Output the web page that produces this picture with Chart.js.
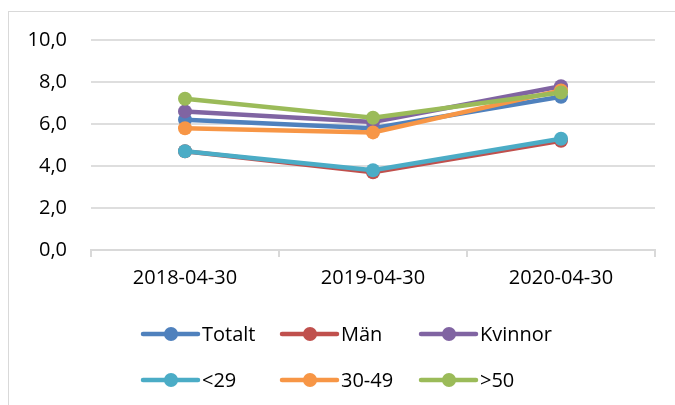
<!DOCTYPE html>
<html>
<head>
<meta charset="utf-8">
<script src="https://cdn.jsdelivr.net/npm/chart.js@4/dist/chart.umd.min.js"></script>
<style>
  html, body { margin: 0; padding: 0; background: #fff; }
  #wrap { position: relative; width: 675px; height: 405px; }
  #frame { position: absolute; left: 8px; top: 11px; right: -2px; bottom: -2px;
           border-top: 1px solid #d9d9d9; border-left: 1px solid #d9d9d9; }
  canvas { position: absolute; left: 0; top: 0; }
</style>
</head>
<body>
<div id="wrap">
  <div id="frame"></div>
  <canvas id="chart" width="675" height="405"></canvas>
</div>
<script>
// categories on the x axis
var dates = ['2018-04-30', '2019-04-30', '2020-04-30'];

// series values
var totalt  = [6.2, 5.8, 7.3];
var man     = [4.7, 3.7, 5.2];
var kvinnor = [6.6, 6.1, 7.8];
var under29 = [4.7, 3.8, 5.3];
var mid3049 = [5.8, 5.6, 7.6];
var over50  = [7.2, 6.3, 7.5];

var seriesNames  = ['Totalt', 'Män', 'Kvinnor', '<29', '30-49', '>50'];
var seriesValues = [totalt, man, kvinnor, under29, mid3049, over50];
var seriesColors = ['#4F81BD', '#C0504D', '#8064A2', '#4BACC6', '#F79646', '#9BBB59'];

var FONT = '"Open Sans", "Liberation Sans", sans-serif';

var datasets = seriesNames.map(function (name, i) {
    return {
        label: name,
        data: seriesValues[i],
        borderColor: seriesColors[i],
        backgroundColor: seriesColors[i],
        borderWidth: 4.5,
        pointRadius: 7,
        pointHoverRadius: 7,
        pointBorderWidth: 0,
        tension: 0,
        order: seriesNames.length - i   // later series on top, like Excel
    };
});

// legend drawn by hand: line + dot, 3 per row
var lineLegend = {
    id: 'lineLegend',
    afterDraw: function (chart) {
        var ctx = chart.ctx;
        ctx.save();
        ctx.font = '20px ' + FONT;
        ctx.textBaseline = 'middle';
        ctx.textAlign = 'left';
        chart.data.datasets.forEach(function (ds, i) {
            var col = i % 3, row = Math.floor(i / 3);
            var x0 = 143 + col * 139;
            var y = 334 + row * 46;
            ctx.strokeStyle = ds.borderColor;
            ctx.lineWidth = 4.5;
            ctx.lineCap = 'round';
            ctx.beginPath();
            ctx.moveTo(x0, y);
            ctx.lineTo(x0 + 55, y);
            ctx.stroke();
            ctx.fillStyle = ds.borderColor;
            ctx.beginPath();
            ctx.arc(x0 + 28, y, 7, 0, Math.PI * 2);
            ctx.fill();
            ctx.fillStyle = '#000';
            ctx.fillText(ds.label, x0 + 59, y + 1);
        });
        ctx.restore();
    }
};

var ctx = document.getElementById('chart');
var myChart = new Chart(ctx, {
    type: 'line',
    data: { labels: dates, datasets: datasets },
    options: {
        responsive: false,
        animation: false,
        events: [],
        layout: { padding: { top: 40, left: 0, right: 20, bottom: 0 } },
        plugins: {
            legend: { display: false },
            tooltip: { enabled: false }
        },
        scales: {
            x: {
                offset: true,
                grid: {
                    offset: true,
                    drawOnChartArea: false,
                    drawTicks: true,
                    tickLength: 7,
                    color: '#d9d9d9',
                    lineWidth: 2
                },
                border: { display: true, color: '#d9d9d9', width: 2 },
                ticks: {
                    color: '#000',
                    padding: 9,
                    maxRotation: 0,
                    font: { family: FONT, size: 20 }
                },
                afterFit: function (scale) { scale.height = 155; }
            },
            y: {
                min: 0,
                max: 10,
                grid: { drawTicks: false, color: '#dedede', lineWidth: 2 },
                border: { display: false },
                ticks: {
                    stepSize: 2,
                    padding: 24,
                    color: '#000',
                    font: { family: FONT, size: 20 },
                    callback: function (v) { return v.toFixed(1).replace('.', ','); }
                },
                afterFit: function (scale) { scale.width = 91; }
            }
        }
    },
    plugins: [lineLegend]
});
</script>
</body>
</html>
